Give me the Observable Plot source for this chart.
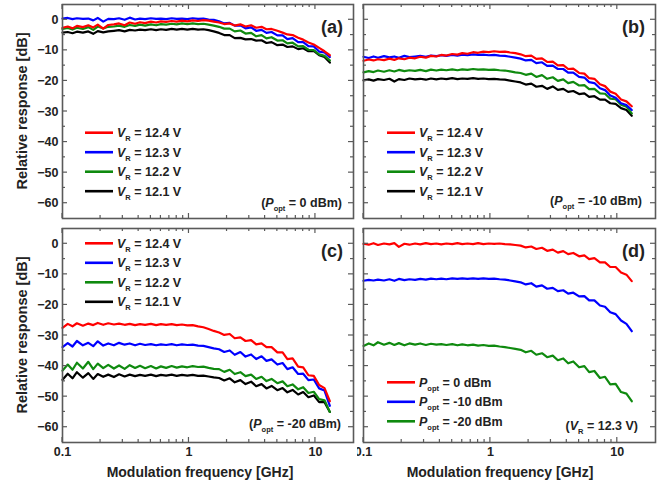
<!DOCTYPE html>
<html><head><meta charset="utf-8">
<script src="https://cdn.jsdelivr.net/npm/d3@7"></script>
<script src="https://cdn.jsdelivr.net/npm/@observablehq/plot@0.6"></script>
<style>
html,body{margin:0;padding:0;background:#fff;}
#wrap{position:relative;width:669px;height:487px;overflow:hidden;background:#fff;}
</style></head><body><div id="wrap"></div>
<script>
// ---------- data ----------
const freqs = [0.10,0.11,0.12,0.13,0.145,0.16,0.175,0.19,0.21,0.23,
  0.255,0.28,0.31,0.34,0.375,0.41,0.45,0.5,0.55,0.6,
  0.66,0.73,0.8,0.88,0.97,1.07,1.18,1.3,1.43,1.57,
  1.73,1.9,2.1,2.3,2.55,2.8,3.1,3.4,3.75,4.1,
  4.5,5.0,5.5,6.0,6.6,7.3,8.0,8.8,9.7,10.7,11.8,13.0];

const vrLabels = ["12.4 V","12.3 V","12.2 V","12.1 V"];
const poptLabels = ["0 dBm","-10 dBm","-20 dBm"];

// panel (a) P_opt = 0 dBm
const a_vr124 = [-2.6,-2.2,-2.8,-2.0,-2.4,-1.8,-2.5,-1.6,-2.9,-1.7,
  -1.5,-1.2,-1.8,-0.9,-1.3,-0.8,-1.1,-0.6,-0.9,-0.5,
  -0.7,-0.4,-0.6,-0.3,-0.5,-0.2,-0.4,-0.1,-0.3,-0.6,
  -0.9,-1.4,-1.2,-1.9,-1.5,-2.2,-1.8,-2.6,-2.3,-3.1,
  -3.0,-3.6,-4.2,-4.8,-5.0,-5.9,-6.5,-7.4,-8.1,-9.2,-10.3,-11.6];
const a_vr123 = [0.4,0.6,0.2,0.5,0.3,0.4,-0.2,0.6,-0.6,0.3,
  0.2,0.5,0.0,0.7,0.1,0.4,0.2,0.5,0.3,0.4,
  0.2,0.5,0.3,0.4,0.2,0.5,0.3,0.4,0.1,0.0,
  -0.5,-1.2,-1.0,-1.9,-1.8,-2.8,-2.5,-3.6,-3.3,-4.3,
  -4.0,-5.1,-5.1,-6.3,-6.0,-7.3,-7.3,-8.6,-8.7,-10.4,-10.7,-12.2];
const a_vr122 = [-3.0,-2.7,-3.2,-2.6,-3.0,-2.4,-3.3,-2.2,-2.8,-2.3,
  -2.2,-1.9,-2.3,-1.7,-2.0,-1.6,-1.9,-1.5,-1.8,-1.4,
  -1.6,-1.3,-1.5,-1.2,-1.4,-1.2,-1.4,-1.3,-1.6,-1.9,
  -2.3,-2.9,-2.9,-3.8,-3.5,-4.5,-4.3,-5.4,-5.0,-6.1,
  -5.7,-6.8,-6.7,-7.7,-7.5,-8.7,-8.6,-9.8,-9.9,-11.3,-11.8,-13.3];
const a_vr121 = [-4.2,-4.0,-4.4,-3.9,-4.2,-3.8,-4.6,-3.7,-4.1,-3.8,
  -3.6,-3.4,-3.8,-3.3,-3.5,-3.2,-3.4,-3.1,-3.4,-3.1,
  -3.3,-3.0,-3.2,-3.0,-3.2,-3.0,-3.2,-3.1,-3.4,-3.8,
  -4.3,-5.0,-5.0,-6.0,-5.9,-6.4,-6.3,-6.8,-6.7,-7.6,
  -7.3,-8.3,-8.1,-8.9,-8.7,-9.6,-9.3,-10.3,-10.2,-11.6,-12.2,-14.0];

// panel (b) P_opt = -10 dBm
const b_vr124 = [-13.4,-13.0,-13.3,-12.9,-13.2,-12.7,-13.1,-12.6,-12.9,-12.4,
  -12.6,-12.1,-12.4,-11.8,-12.0,-11.5,-11.7,-11.2,-11.4,-10.9,
  -11.1,-10.6,-10.8,-10.4,-10.6,-10.3,-10.5,-10.4,-10.7,-10.9,
  -11.3,-11.9,-11.7,-12.8,-12.6,-13.8,-13.7,-14.9,-14.8,-16.1,
  -16.0,-17.4,-17.6,-19.1,-19.3,-21.1,-21.7,-23.5,-24.2,-26.1,-26.7,-28.3];
const b_vr123 = [-12.1,-12.5,-12.0,-12.4,-11.9,-12.3,-12.0,-12.4,-11.8,-12.2,
  -12.0,-11.8,-12.1,-11.7,-11.9,-11.6,-11.8,-11.5,-11.7,-11.4,
  -11.6,-11.3,-11.5,-11.4,-11.6,-11.5,-11.7,-11.8,-12.1,-12.4,
  -12.7,-13.3,-13.1,-14.2,-13.9,-15.1,-15.0,-16.1,-16.1,-17.3,
  -17.3,-18.7,-18.9,-20.4,-20.7,-22.4,-23.0,-24.8,-25.5,-27.3,-27.9,-29.5];
const b_vr122 = [-17.2,-16.8,-17.1,-16.6,-17.0,-16.5,-16.9,-16.4,-16.8,-16.5,
  -16.7,-16.4,-16.8,-16.3,-16.6,-16.3,-16.5,-16.2,-16.5,-16.2,
  -16.4,-16.1,-16.3,-16.2,-16.4,-16.3,-16.5,-16.6,-16.9,-17.2,
  -17.4,-18.0,-17.6,-18.7,-18.1,-19.3,-18.8,-20.0,-19.5,-20.7,
  -20.3,-21.5,-21.4,-22.7,-22.6,-24.1,-24.2,-25.8,-26.0,-27.8,-28.4,-30.6];
const b_vr121 = [-19.8,-19.5,-19.9,-19.4,-19.7,-19.3,-20.2,-19.4,-19.7,-19.2,
  -19.5,-19.3,-19.6,-19.2,-19.5,-19.2,-19.4,-19.1,-19.4,-19.2,
  -19.3,-19.1,-19.3,-19.2,-19.4,-19.3,-19.5,-19.6,-19.9,-20.2,
  -20.5,-21.2,-20.9,-21.9,-21.6,-22.6,-21.8,-22.9,-22.6,-23.6,
  -23.3,-24.3,-24.1,-25.2,-25.0,-26.1,-26.1,-27.3,-27.5,-28.9,-29.5,-31.4];

// panel (c) P_opt = -20 dBm
const c_vr124 = [-27.5,-26.2,-27.0,-26.0,-26.8,-26.1,-26.6,-25.9,-26.5,-26.0,
  -26.4,-26.1,-26.5,-26.2,-26.6,-26.3,-26.5,-26.2,-26.6,-26.3,
  -26.5,-26.3,-26.6,-26.4,-26.7,-26.6,-27.0,-27.3,-27.9,-28.5,
  -29.0,-29.8,-29.5,-30.9,-30.6,-31.8,-31.5,-32.9,-32.6,-33.8,
  -33.8,-35.5,-35.5,-37.7,-37.5,-40.2,-40.4,-43.0,-43.2,-46.2,-47.2,-51.5];
const c_vr123 = [-33.8,-32.5,-33.6,-31.8,-33.2,-32.4,-33.5,-31.9,-33.3,-32.6,
  -33.2,-32.4,-33.0,-32.6,-33.2,-32.7,-33.1,-32.8,-33.2,-32.9,
  -33.1,-32.8,-33.2,-32.9,-33.1,-33.0,-33.3,-33.4,-33.8,-34.2,
  -34.5,-35.4,-34.9,-36.3,-35.4,-36.9,-36.2,-37.7,-36.8,-38.3,
  -37.8,-39.5,-39.0,-41.0,-40.4,-42.6,-42.5,-44.6,-44.4,-47.3,-48.0,-53.0];
const c_vr122 = [-41.5,-39.5,-41.2,-38.9,-40.8,-38.6,-41.0,-39.2,-40.7,-39.6,
  -40.8,-39.8,-40.9,-39.7,-40.6,-39.9,-40.7,-40.0,-40.8,-40.1,
  -40.6,-40.0,-40.5,-40.1,-40.4,-40.0,-40.3,-40.2,-40.6,-40.9,
  -41.0,-41.9,-41.2,-42.6,-42.0,-43.3,-42.8,-44.2,-43.5,-44.9,
  -44.2,-45.6,-45.0,-46.6,-46.0,-47.6,-46.9,-48.8,-48.4,-50.8,-51.2,-55.0];
const c_vr121 = [-44.5,-42.5,-44.0,-42.0,-43.8,-42.3,-44.2,-42.6,-43.5,-42.8,
  -43.6,-42.7,-43.4,-42.8,-43.3,-42.9,-43.2,-42.8,-43.3,-42.9,
  -43.1,-42.8,-43.2,-42.9,-43.1,-42.9,-43.2,-43.1,-43.4,-43.7,
  -43.9,-44.7,-44.0,-45.3,-44.6,-45.9,-45.1,-46.6,-45.9,-47.3,
  -46.5,-47.9,-47.2,-48.6,-47.8,-49.3,-48.5,-50.2,-49.6,-51.8,-51.8,-55.0];

// panel (d) V_R = 12.3 V
const d_p0 = [0.0,-0.3,0.2,-0.4,0.1,-0.2,0.2,-1.0,0.0,-0.3,
  0.1,-0.2,0.2,-0.1,0.1,-0.2,0.1,-0.1,0.2,-0.1,
  0.1,-0.1,0.2,-0.1,0.1,0.0,0.1,-0.1,-0.2,-0.4,
  -0.6,-1.2,-0.9,-1.7,-1.3,-2.3,-1.9,-2.9,-2.4,-3.4,
  -3.0,-4.1,-3.8,-5.0,-4.7,-6.1,-6.1,-7.6,-7.6,-9.4,-10.1,-12.2];
const d_pm10 = [-12.1,-11.8,-12.0,-11.7,-12.0,-11.6,-12.1,-11.5,-11.9,-11.6,
  -11.8,-11.5,-11.7,-11.4,-11.6,-11.4,-11.6,-11.3,-11.5,-11.3,
  -11.5,-11.3,-11.5,-11.3,-11.5,-11.4,-11.6,-11.7,-12.0,-12.3,
  -12.6,-13.3,-12.9,-14.0,-13.6,-14.7,-14.4,-15.5,-15.2,-16.3,
  -16.0,-17.2,-17.1,-18.5,-18.5,-20.2,-20.6,-22.4,-23.0,-25.1,-26.2,-28.6];
const d_pm20 = [-33.4,-32.6,-33.2,-32.2,-33.0,-32.4,-33.1,-32.5,-33.2,-32.6,
  -33.0,-32.6,-33.1,-32.7,-33.0,-32.8,-33.1,-32.8,-33.2,-32.9,
  -33.2,-33.0,-33.3,-33.1,-33.4,-33.3,-33.6,-33.8,-34.1,-34.4,
  -34.7,-35.5,-35.0,-36.3,-35.8,-37.1,-36.6,-38.1,-37.5,-39.1,
  -38.5,-40.4,-40.0,-42.0,-41.6,-43.9,-43.5,-46.0,-45.8,-48.5,-49.0,-51.5];

const xMajor = [0.1, 1, 10];
const xMinor = [0.2,0.3,0.4,0.5,0.6,0.7,0.8,0.9,2,3,4,5,6,7,8,9];
const yMajor = [0,-10,-20,-30,-40,-50,-60];
const yMinor = [-5,-15,-25,-35,-45,-55];

// ---------- styles ----------
const FONT = "Liberation Sans, Arial, Helvetica, sans-serif";
const FRAME = "#5a5a5a";
const RED = "#ff0000", BLUE = "#0000ff", GREEN = "#0f8a0f", BLACK = "#000000";

const vrSeries = (v) => [
  {vals: v[0], color: RED,   lab: vrLabels[0]},
  {vals: v[1], color: BLUE,  lab: vrLabels[1]},
  {vals: v[2], color: GREEN, lab: vrLabels[2]},
  {vals: v[3], color: BLACK, lab: vrLabels[3]}
];

const panels = [
  {tag:"(a)", left:0, top:0, w:357, h:223, mt:4, mr:4, mb:5, ml:62, xAxis:false, yAxis:true,
   series: vrSeries([a_vr124,a_vr123,a_vr122,a_vr121]), lp:"V", ls:"R",
   note:["P","opt"," = 0 dBm)"], legTop:128.7, legX:23, noteDx:11, noteDy:11},
  {tag:"(b)", left:357, top:0, w:312, h:223, mt:4, mr:14, mb:5, ml:6, xAxis:false, yAxis:false,
   series: vrSeries([b_vr124,b_vr123,b_vr122,b_vr121]), lp:"V", ls:"R",
   note:["P","opt"," = -10 dBm)"], legTop:128.7, legX:24, noteDx:13, noteDy:13},
  {tag:"(c)", left:0, top:223, w:357, h:264, mt:5, mr:4, mb:45, ml:62, xAxis:true, yAxis:true,
   series: vrSeries([c_vr124,c_vr123,c_vr122,c_vr121]), lp:"V", ls:"R",
   note:["P","opt"," = -20 dBm)"], legTop:15.3, legX:23, noteDx:12, noteDy:14, xLabelX:200},
  {tag:"(d)", left:357, top:223, w:312, h:264, mt:5, mr:14, mb:45, ml:6, xAxis:true, yAxis:false,
   series: [
     {vals: d_p0, color: RED, lab: poptLabels[0]},
     {vals: d_pm10, color: BLUE, lab: poptLabels[1]},
     {vals: d_pm20, color: GREEN, lab: poptLabels[2]}
   ], lp:"P", ls:"opt",
   note:["V","R"," = 12.3 V)"], legTop:154.3, legX:24, noteDx:17, noteDy:12, xLabelX:143}
];

function overlay(p) {
  return (index, scales, values, dims) => {
    const {width, height, marginTop, marginRight, marginBottom, marginLeft} = dims;
    const L = marginLeft, R = width - marginRight, T = marginTop, B = height - marginBottom;
    const g = d3.create("svg:g").attr("font-family", FONT).attr("font-weight", "bold")
      .attr("text-anchor", "start");
    const tk = g.append("g").attr("stroke", FRAME).attr("stroke-width", 1.2);
    const seg = (x1, y1, x2, y2) => tk.append("line")
      .attr("x1", x1).attr("y1", y1).attr("x2", x2).attr("y2", y2);
    for (const t of xMajor) { const x = scales.x(t); seg(x, B, x, B - 5); seg(x, T, x, T + 5); }
    for (const t of xMinor) { const x = scales.x(t); seg(x, B, x, B - 3); seg(x, T, x, T + 3); }
    for (const t of yMajor) { const y = scales.y(t); seg(L, y, L + 5, y); seg(R, y, R - 5, y); }
    for (const t of yMinor) { const y = scales.y(t); seg(L, y, L + 3, y); seg(R, y, R - 3, y); }

    // legend
    p.series.forEach((s, i) => {
      const y = T + p.legTop + i * 19.5;
      g.append("line").attr("x1", L + p.legX).attr("x2", L + p.legX + 28)
        .attr("y1", y).attr("y2", y).attr("stroke", s.color).attr("stroke-width", 2.6);
      const t = g.append("text").attr("x", L + p.legX + 32).attr("y", y + 4.5)
        .attr("text-anchor", "start").attr("font-size", 12.5).attr("fill", "#222");
      t.append("tspan").attr("font-style", "italic").text(p.lp);
      t.append("tspan").attr("font-size", 7.5).attr("dy", 4).text(p.ls);
      t.append("tspan").attr("dy", -4).text(" = " + s.lab);
    });

    // tag
    g.append("text").attr("x", R - 10).attr("y", T + 29).attr("text-anchor", "end")
      .attr("font-size", 18).attr("fill", "#222").text(p.tag);

    // note
    const n = g.append("text").attr("x", R - p.noteDx).attr("y", B - p.noteDy)
      .attr("text-anchor", "end").attr("font-size", 12.5).attr("fill", "#222");
    n.append("tspan").text("(");
    n.append("tspan").attr("font-style", "italic").text(p.note[0]);
    n.append("tspan").attr("font-size", 7.5).attr("dy", 4).text(p.note[1]);
    n.append("tspan").attr("dy", -4).text(p.note[2]);

    if (p.yAxis) {
      g.append("text").attr("transform", `translate(22,${(T + B) / 2}) rotate(-90)`)
        .attr("text-anchor", "middle").attr("dy", "0.35em").attr("font-size", 14.5)
        .attr("fill", "#222").text("Relative response [dB]");
    }
    if (p.xAxis) {
      g.append("text").attr("x", p.xLabelX).attr("y", 477 - p.top)
        .attr("text-anchor", "middle").attr("font-size", 14).attr("fill", "#222")
        .text("Modulation frequency [GHz]");
    }
    return g.node();
  };
}

const wrap = document.getElementById("wrap");
for (const p of panels) {
  const lineMarks = p.series.slice().reverse().map(s =>
    Plot.line(freqs.map((f, i) => ({f, v: s.vals[i]})),
      {x: "f", y: "v", stroke: s.color, strokeWidth: 2.2, strokeLinejoin: "round"}));
  const chart = Plot.plot({
    width: p.w, height: p.h,
    marginTop: p.mt, marginRight: p.mr, marginBottom: p.mb, marginLeft: p.ml,
    style: {fontFamily: FONT, fontSize: "12.5px", fontWeight: "bold", background: "transparent",
            overflow: "hidden", color: "#222"},
    x: p.xAxis
      ? {type: "log", domain: [0.1, 20], ticks: xMajor, tickFormat: d => String(d),
         tickSize: 0, tickPadding: 5, label: null}
      : {type: "log", domain: [0.1, 20], axis: null},
    y: p.yAxis
      ? {domain: [-65, 5], ticks: yMajor, tickSize: 0, tickPadding: 4, label: null}
      : {domain: [-65, 5], axis: null},
    marks: [
      ...lineMarks,
      Plot.frame({stroke: FRAME, strokeWidth: 1.6}),
      overlay(p)
    ]
  });
  chart.style.position = "absolute";
  chart.style.left = p.left + "px";
  chart.style.top = p.top + "px";
  wrap.appendChild(chart);
}
</script></body></html>
